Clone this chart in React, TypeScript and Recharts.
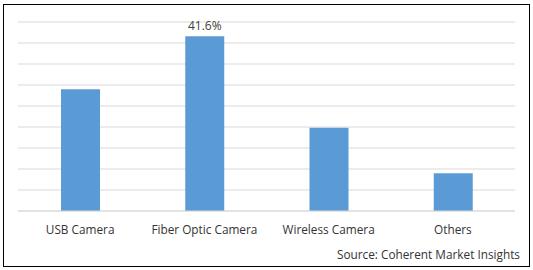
import { Bar, BarChart, CartesianGrid, LabelList, XAxis, YAxis } from 'recharts'

const categories = ['USB Camera', 'Fiber Optic Camera', 'Wireless Camera', 'Others']
const shares = [29.0, 41.6, 19.8, 9.0]
const shownLabels = ['', '41.6%', '', '']
const gridTicks = [0, 5, 10, 15, 20, 25, 30, 35, 40, 45]

const data = categories.map((name, i) => ({ name, share: shares[i], label: shownLabels[i] }))

const FONT = '"Open Sans", "Liberation Sans", sans-serif'

export default function App() {
  return (
    <div style={{ position: 'absolute', left: 0, top: 0, width: 533, height: 270, background: '#fff', fontFamily: FONT }}>
      <BarChart width={533} height={270} data={data}
        margin={{ top: 22, right: 18, bottom: 29, left: 18 }}>
        <CartesianGrid vertical={false} stroke="#d9d9d9" strokeWidth={1} />
        <YAxis hide domain={[0, 45]} ticks={gridTicks} interval={0} />
        <XAxis dataKey="name" height={30} tickLine={false} axisLine={{ stroke: '#d9d9d9' }}
          tickMargin={9} interval={0}
          tick={{ fill: '#333', fontSize: 11.8, fontFamily: FONT }} />
        <Bar dataKey="share" fill="#5b9bd5" barSize={39} isAnimationActive={false}>
          <LabelList dataKey="label" position="top" offset={6}
            style={{ fill: '#404040', fontSize: 12, fontFamily: FONT }} />
        </Bar>
      </BarChart>
      <div style={{ position: 'absolute', zIndex: 5, left: 3, top: 4, width: 525, height: 261, border: '1px solid #000', boxSizing: 'content-box', pointerEvents: 'none' }} />
      <div style={{ position: 'absolute', zIndex: 5, right: 13, top: 246, fontSize: 11.8, color: '#333', lineHeight: '16px' }}>
        Source: Coherent Market Insights
      </div>
    </div>
  )
}
